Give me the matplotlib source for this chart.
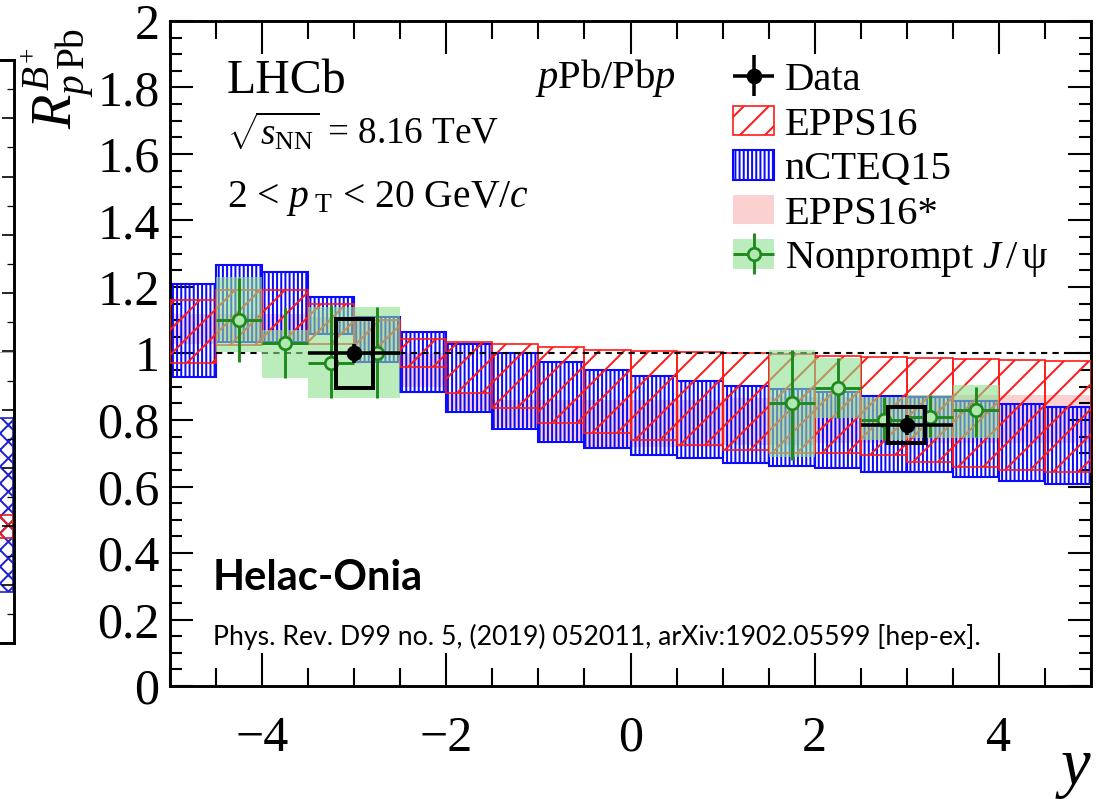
import numpy as np
import matplotlib
matplotlib.use("Agg")
import matplotlib.pyplot as plt
from matplotlib.patches import Patch
from matplotlib.ticker import MultipleLocator

##### Data #####
y_edges = [-5.0, -4.5, -4.0, -3.5, -3.0, -2.5, -2.0, -1.5, -1.0, -0.5, 0.0,
           0.5, 1.0, 1.5, 2.0, 2.5, 3.0, 3.5, 4.0, 4.5, 5.0]

# nCTEQ15 band (blue)
ncteq_hi = [1.21, 1.265, 1.245, 1.17, 1.11, 1.065, 1.03, 1.00, 0.975, 0.95,
            0.932, 0.917, 0.903, 0.893, 0.885, 0.872, 0.868, 0.857, 0.847, 0.84]
ncteq_lo = [0.93, 1.035, 1.035, 1.06, 0.975, 0.885, 0.824, 0.773, 0.734, 0.715,
            0.695, 0.686, 0.671, 0.662, 0.656, 0.644, 0.643, 0.63, 0.617, 0.608]

# EPPS16 band (red hatched)
epps_hi = [1.16, 1.19, 1.19, 1.15, 1.10, 1.045, 1.035, 1.03, 1.02, 1.01,
           1.007, 1.004, 1.0, 0.997, 0.993, 0.99, 0.986, 0.983, 0.98, 0.978]
epps_lo = [0.97, 1.025, 1.03, 1.03, 1.0, 0.96, 0.88, 0.835, 0.79, 0.76,
           0.74, 0.725, 0.71, 0.70, 0.70, 0.695, 0.675, 0.66, 0.65, 0.645]

# EPPS16* band (pink)
eppsS_hi = [1.12, 1.12, 1.12, 1.11, 1.10, 1.0, 0.88, 0.86, 0.86, 0.86,
            0.86, 0.86, 0.865, 0.87, 0.87, 0.87, 0.875, 0.875, 0.875, 0.875]
eppsS_lo = [1.03, 1.04, 1.04, 1.06, 1.01, 0.9, 0.83, 0.78, 0.74, 0.72,
            0.72, 0.72, 0.725, 0.725, 0.73, 0.73, 0.73, 0.73, 0.73, 0.73]

# Nonprompt J/psi (green)
np_x = [-4.25, -3.75, -3.25, -2.75, 1.75, 2.25, 2.75, 3.25, 3.75]
np_y = [1.10, 1.032, 0.97, 1.00, 0.851, 0.896, 0.80, 0.81, 0.83]
np_err_lo = [0.125, 0.106, 0.104, 0.134, 0.17, 0.09, 0.06, 0.061, 0.081]
np_err_hi = [0.127, 0.105, 0.176, 0.14, 0.16, 0.09, 0.07, 0.065, 0.07]
np_box_lo = [1.005, 0.926, 0.866, 0.866, 0.69, 0.806, 0.74, 0.745, 0.745]
np_box_hi = [1.23, 1.07, 1.14, 1.14, 1.01, 0.986, 0.87, 0.875, 0.905]

# LHCb B+ data (black)
data_x = [-3.0, 3.0]
data_y = [1.0, 0.785]
data_xerr = [0.5, 0.5]
data_stat = [0.03, 0.03]
data_syst = [0.105, 0.053]

# neighbouring panel (cut at the left border)
left_blue = [0.175, 0.772]
left_red = [0.36, 0.44]

##### Style #####
plt.rcParams['font.family'] = ['Liberation Serif', 'DejaVu Serif']
plt.rcParams['mathtext.fontset'] = 'custom'
plt.rcParams['mathtext.rm'] = 'Liberation Serif'
plt.rcParams['mathtext.it'] = 'Liberation Serif:italic'
plt.rcParams['mathtext.bf'] = 'Liberation Serif:bold'
plt.rcParams['hatch.linewidth'] = 0.95

W, H = 1096, 799
DPI = 150
fig = plt.figure(figsize=(W / DPI, H / DPI), dpi=DPI)

ax_l, ax_r, ax_t, ax_b = 170, 1091, 21, 686  # pixel frame of main pad
ax = fig.add_axes([ax_l / W, 1 - ax_b / H, (ax_r - ax_l) / W, (ax_b - ax_t) / H])

edges = np.array(y_edges)
centers = 0.5 * (edges[:-1] + edges[1:])
widths = np.diff(edges)

blue = "#0a0aff"
red = "#ff1a1a"

# EPPS16* pink band
ax.bar(centers, np.array(eppsS_hi) - np.array(eppsS_lo), bottom=eppsS_lo,
       width=widths, color="#fbd0d0", edgecolor="none", zorder=1)

# nCTEQ15
ax.bar(centers, np.array(ncteq_hi) - np.array(ncteq_lo), bottom=ncteq_lo,
       width=widths, facecolor="none", edgecolor=blue, hatch="||||||",
       linewidth=1.0, zorder=2)

# EPPS16
ax.bar(centers, np.array(epps_hi) - np.array(epps_lo), bottom=epps_lo,
       width=widths, facecolor="none", edgecolor=red, hatch="//",
       linewidth=0.8, zorder=3)

# reference line
ax.hlines(1.0, y_edges[1], y_edges[-1], colors="black", linestyles=(0, (3, 2.5)),
          linewidth=1.0, zorder=3.5)

# nonprompt J/psi
green = "#1e8a1e"
box_w = 0.5
ax.bar(np_x, np.array(np_box_hi) - np.array(np_box_lo), bottom=np_box_lo,
       width=box_w, color="#8fe08f", alpha=0.6, edgecolor="none", zorder=4)
np_eb = ax.errorbar(np_x, np_y, yerr=[np_err_lo, np_err_hi], xerr=0.25, fmt="o",
                    color=green, mfc="#b0e8b0", mec=green, mew=1.3, ms=6.0,
                    elinewidth=1.4, capsize=0, zorder=5)

# data with systematic boxes
for xx, yy, ss in zip(data_x, data_y, data_syst):
    ax.add_patch(plt.Rectangle((xx - 0.2, yy - ss), 0.4, 2 * ss, fill=False,
                               edgecolor="black", linewidth=1.9, zorder=6))
data_eb = ax.errorbar(data_x, data_y, yerr=data_stat, xerr=data_xerr, fmt="o",
                      color="black", ms=6.5, elinewidth=1.7, capsize=0, zorder=7)

##### Axes #####
ax.set_xlim(-5, 5)
ax.set_ylim(0, 2)
ax.xaxis.set_major_locator(MultipleLocator(2))
ax.xaxis.set_minor_locator(MultipleLocator(0.5))
ax.yaxis.set_major_locator(MultipleLocator(0.2))
ax.yaxis.set_minor_locator(MultipleLocator(0.05))
ax.set_yticks([0, 0.2, 0.4, 0.6, 0.8, 1, 1.2, 1.4, 1.6, 1.8, 2])
ax.set_yticklabels(["0", "0.2", "0.4", "0.6", "0.8", "1", "1.2", "1.4", "1.6", "1.8", "2"])
ax.tick_params(axis="both", which="both", direction="in", top=True, right=True, width=1.0)
ax.tick_params(axis="x", which="major", length=16, pad=14, labelsize=24)
ax.tick_params(axis="x", which="minor", length=8.5)
ax.tick_params(axis="y", which="major", length=11, pad=5, labelsize=24)
ax.tick_params(axis="y", which="minor", length=5.8)
for sp in ax.spines.values():
    sp.set_linewidth(1.4)

##### Texts #####
def axfrac(px, py):
    return (px - ax_l) / (ax_r - ax_l), (ax_b - py) / (ax_b - ax_t)

ax.text(*axfrac(227, 93), "LHCb", fontsize=23, transform=ax.transAxes, va="baseline")
ax.text(*axfrac(227, 145), r"$\sqrt{s_{\mathrm{NN}}}$ = 8.16 TeV", fontsize=17.8,
        transform=ax.transAxes, va="baseline")
ax.text(*axfrac(227, 207), r"2 < $p_{\;\mathrm{T}}$ < 20 GeV/$c$", fontsize=19,
        transform=ax.transAxes, va="baseline")
ax.text(*axfrac(535, 88), r"$p$Pb/Pb$p$", fontsize=19.5, transform=ax.transAxes,
        va="baseline")
ax.text(*axfrac(213, 590), "Helac-Onia", fontsize=20, fontweight="bold",
        family=["Lato", "DejaVu Sans"], transform=ax.transAxes, va="baseline")
ax.text(*axfrac(213, 645), "Phys. Rev. D99 no. 5, (2019) 052011, arXiv:1902.05599 [hep-ex].",
        fontsize=12.8, family=["Lato", "DejaVu Sans"], transform=ax.transAxes,
        va="baseline")

fig.text(58 / W, 1 - 28 / H, r"$R^{B^{+}}_{p\,\mathrm{Pb}}$", fontsize=27,
         rotation=90, ha="center", va="top")
fig.text(1075 / W, 1 - 768 / H, "y", fontsize=32, style="italic", ha="center",
         va="center")

##### Legend #####
h_epps = Patch(facecolor="none", edgecolor=red, hatch="//", linewidth=0.8)
h_ncteq = Patch(facecolor="none", edgecolor=blue, hatch="||||||", linewidth=1.0)
h_star = Patch(facecolor="#fbd0d0", edgecolor="none")
h_np_box = Patch(facecolor="#8fe08f", alpha=0.6, edgecolor="none")
leg = ax.legend([data_eb, h_epps, h_ncteq, h_star, (h_np_box, np_eb)],
                ["Data", "EPPS16", "nCTEQ15", "EPPS16*", "Nonprompt $J\\,/\\,$ψ"],
                loc="upper left", bbox_to_anchor=axfrac(733, 61), frameon=False,
                fontsize=19.5, borderpad=0, borderaxespad=0, labelspacing=0.16,
                handlelength=1.02, handleheight=0.75, handletextpad=0.25)

##### Neighbouring panel #####
ax0 = fig.add_axes([-0.2, 1 - 643 / H, 0.2 + 14 / W, (643 - 60) / H])
ax0.set_xlim(0, 1)
ax0.set_ylim(0, 2)
ax0.bar([0.86], [left_blue[1] - left_blue[0]], bottom=left_blue[0], width=0.27,
        facecolor="none", edgecolor="#2020d0", hatch="xxx", linewidth=0.8)
ax0.bar([0.86], [left_red[1] - left_red[0]], bottom=left_red[0], width=0.27,
        facecolor="none", edgecolor="#e02020", hatch="xxx", linewidth=0.8)
ax0.axhline(1.0, color="#b0b0b0", linewidth=0.5)
ax0.yaxis.set_major_locator(MultipleLocator(0.2))
ax0.yaxis.set_minor_locator(MultipleLocator(0.1))
ax0.set_xticks([])
ax0.tick_params(axis="y", which="both", direction="in", left=False, right=True,
                labelleft=False)
ax0.tick_params(axis="y", which="major", length=6)
ax0.tick_params(axis="y", which="minor", length=3.5)
for sp in ax0.spines.values():
    sp.set_linewidth(1.4)

fig.savefig("out.png", dpi=DPI)
